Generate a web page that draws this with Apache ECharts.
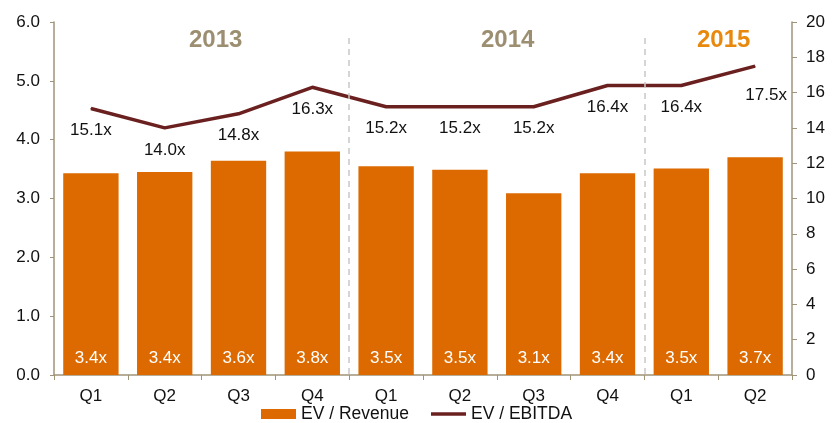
<!DOCTYPE html>
<html><head><meta charset="utf-8">
<script src="https://cdn.jsdelivr.net/npm/echarts@6/dist/echarts.min.js"></script>
<style>html,body{margin:0;padding:0;background:#fff}#c{width:838px;height:423px}</style>
</head><body><div id="c"></div>
<script>
const categories = ['Q1','Q2','Q3','Q4','Q1','Q2','Q3','Q4','Q1','Q2'];
const evRevenue = [3.43, 3.45, 3.64, 3.80, 3.55, 3.49, 3.09, 3.43, 3.51, 3.70];
const evRevenueLabels = ['3.4x','3.4x','3.6x','3.8x','3.5x','3.5x','3.1x','3.4x','3.5x','3.7x'];
const evEbitda = [15.1, 14.0, 14.8, 16.3, 15.2, 15.2, 15.2, 16.4, 16.4, 17.5];
const years = ['2013', '2014', '2015'];
const yearDividers = [4, 8];

const font = '"Liberation Sans", Arial, sans-serif';
const axisColor = '#a09478';
const chart = echarts.init(document.getElementById('c'));

const lineData = evEbitda.map((v, i) => {
  const d = { value: v };
  if (i === evEbitda.length - 1) d.label = { offset: [11, 7] };
  return d;
});

chart.setOption({
  animation: false,
  textStyle: { fontFamily: font },
  grid: { left: 54, right: 46, top: 22, bottom: 48 },
  legend: {
    left: 256, top: 400, itemWidth: 35, itemHeight: 10, itemGap: 22,
    textStyle: { fontSize: 17.5, color: '#111', fontFamily: font },
    data: [
      { name: 'EV / Revenue', icon: 'rect' },
      { name: 'EV / EBITDA', icon: 'path://M0,0 L40,0 L40,4 L0,4 Z' }
    ]
  },
  xAxis: [{
    type: 'category', data: categories,
    axisLine: { lineStyle: { color: axisColor, width: 1.5 } },
    axisTick: { show: true, length: 5, lineStyle: { color: axisColor } },
    axisLabel: { fontSize: 17, color: '#111', margin: 13, fontFamily: font }
  }, {
    type: 'value', min: 0, max: 10, show: false
  }],
  yAxis: [{
    type: 'value', min: 0, max: 6, interval: 1,
    axisLine: { show: true, lineStyle: { color: axisColor, width: 1.5 } },
    axisTick: { show: true, length: 4, lineStyle: { color: axisColor } },
    splitLine: { show: false },
    axisLabel: { fontSize: 17, color: '#111', margin: 14, fontFamily: font,
      formatter: v => v.toFixed(1) }
  }, {
    type: 'value', min: 0, max: 20, interval: 2, position: 'right',
    axisLine: { show: true, lineStyle: { color: axisColor, width: 1.5 } },
    axisTick: { show: true, length: 5, lineStyle: { color: axisColor } },
    splitLine: { show: false },
    axisLabel: { fontSize: 17, color: '#111', margin: 14, fontFamily: font }
  }],
  series: [{
    name: 'EV / Revenue', type: 'bar', data: evRevenue,
    barCategoryGap: '25%',
    itemStyle: { color: '#dd6a00' },
    label: { show: true, position: 'insideBottom', distance: 8,
      color: '#fff', fontSize: 17, fontFamily: font,
      formatter: p => evRevenueLabels[p.dataIndex] }
  }, {
    name: 'EV / EBITDA', type: 'line', yAxisIndex: 1, data: lineData,
    symbol: 'circle', symbolSize: 1, showSymbol: true,
    lineStyle: { color: '#6b2020', width: 3.5 },
    itemStyle: { color: '#6b2020' },
    label: { show: true, position: 'bottom', distance: 13,
      color: '#111', fontSize: 17, fontFamily: font,
      formatter: p => p.value.toFixed(1) + 'x' }
  }, {
    name: 'dividers', type: 'scatter', xAxisIndex: 1, yAxisIndex: 1, data: [],
    silent: true,
    markLine: {
      symbol: ['none', 'none'], silent: true, label: { show: false },
      lineStyle: { type: [6, 5], color: '#c8c8c8', width: 1.5 },
      data: yearDividers.map(x => [{ coord: [x, 19.1] }, { coord: [x, 0] }])
    }
  }],
  graphic: [
    { type: 'text', left: 189, top: 28, style: { text: years[0], font: 'bold 24px ' + font, fill: '#9c8e70' } },
    { type: 'text', left: 481, top: 28, style: { text: years[1], font: 'bold 24px ' + font, fill: '#9c8e70' } },
    { type: 'text', left: 697, top: 28, style: { text: years[2], font: 'bold 24px ' + font, fill: '#e8880c' } }
  ]
});
</script></body></html>
